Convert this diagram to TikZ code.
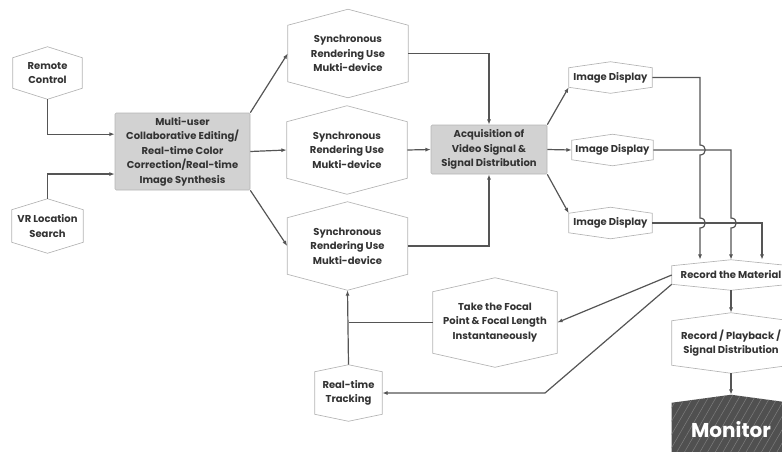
\documentclass[tikz,border=0pt]{standalone}
\usepackage{fontspec}
\setmainfont{Poppins}
\usetikzlibrary{positioning,calc,arrows.meta,backgrounds,patterns.meta}

\definecolor{linegray}{HTML}{555555}
\definecolor{edgegray}{HTML}{B4B4B4}
\definecolor{boxgray}{HTML}{D2D2D2}
\definecolor{textgray}{HTML}{333333}
\definecolor{monigray}{HTML}{505050}
\newcommand{\lbl}{\fontsize{7.5}{10.9}\selectfont\bfseries}

\begin{document}
\begin{tikzpicture}[x=0.75pt,y=-0.75pt]
 	\tikzstyle{hexa}=[inner sep=0pt, align=center, font=\lbl, text=textgray]
 	\tikzstyle{graybox}=[rectangle, fill=boxgray, draw=edgegray, rounded corners=1pt, inner sep=0pt, align=center, font=\lbl, text=textgray]
 	\tikzstyle{connect}=[-{Latex[length=4pt,width=3pt]}, draw=linegray, line width=0.9pt]
 	\tikzstyle{outline}=[draw=edgegray, line width=0.5pt]
 	\useasboundingbox (0,0) rectangle (782,451);
 	% inputs and editing
 	\node[hexa, minimum width=51.75pt, minimum height=39pt] (remote) at (47.5,73) {Remote\\Control};
 	\node[hexa, minimum width=53.25pt, minimum height=40.5pt] (vr) at (47.5,226) {VR Location\\Search};
 	\node[graybox, minimum width=101.25pt, minimum height=57.75pt] (multi) at (182.5,151.5) {Multi-user\\Collaborative Editing/\\Real-time Color\\Correction/Real-time\\Image Synthesis};
 	% rendering
 	\node[hexa, minimum width=90pt, minimum height=66pt] (sync1) at (348,53.5) {Synchronous\\Rendering Use\\Mukti-device};
 	\node[hexa, minimum width=90pt, minimum height=66pt] (sync2) at (347,150) {Synchronous\\Rendering Use\\Mukti-device};
 	\node[hexa, minimum width=90pt, minimum height=66pt] (sync3) at (347.5,246) {Synchronous\\Rendering Use\\Mukti-device};
 	\node[graybox, minimum width=87pt, minimum height=36.75pt] (acq) at (489,149.5) {Acquisition of\\Video Signal \&\\Signal Distribution};
 	% displays
 	\node[hexa, minimum width=62.25pt, minimum height=23.25pt] (id1) at (610.5,77.5) {Image Display};
 	\node[hexa, minimum width=60.75pt, minimum height=23.25pt] (id2) at (612.5,150) {Image Display};
 	\node[hexa, minimum width=62.25pt, minimum height=23.25pt] (id3) at (610.5,223) {Image Display};
 	% recording
 	\node[hexa, minimum width=88.5pt, minimum height=22.5pt] (rec) at (731,275) {Record the Material};
 	\node[hexa, minimum width=88.5pt, minimum height=45pt] (recplay) at (731,343) {Record / Playback /\\Signal Distribution};
 	\node[hexa, minimum width=88.5pt, minimum height=52.5pt, text=white, font=\fontsize{15}{18}\selectfont\bfseries] (monitor) at (731,430) {Monitor};
 	% tracking
 	\node[hexa, minimum width=93pt, minimum height=66.75pt] (focal) at (495,322.5) {Take the Focal\\Point \& Focal Length\\Instantaneously};
 	\node[hexa, minimum width=50.25pt, minimum height=42pt] (track) at (348.5,393) {Real-time\\Tracking};
 	% outlines
 	\foreach \n/\p in {remote/8.25,vr/8.25,sync1/12,sync2/12,sync3/12,id1/4.5,id2/4.5,id3/4.5,rec/4.5,recplay/6,focal/10.5,track/5.25}
 		\draw[outline] ([yshift=-\p pt]\n.north west) -- (\n.north) -- ([yshift=-\p pt]\n.north east) -- ([yshift=\p pt]\n.south east) -- (\n.south) -- ([yshift=\p pt]\n.south west) -- cycle;
 	\begin{scope}[on background layer]
 		\path[preaction={fill=monigray}, pattern={Lines[angle=60,distance=5pt,line width=0.4pt]}, pattern color=white!25!monigray] ([yshift=-6pt]monitor.north west) -- (monitor.north) -- ([yshift=-6pt]monitor.north east) -- ([yshift=6pt]monitor.south east) -- (monitor.south) -- ([yshift=6pt]monitor.south west) -- cycle;
 	\end{scope}
 	\coordinate (c1) at (700,0);
 	\coordinate (c2) at (731,0);
 	\coordinate (c3) at (762,0);
 	\coordinate (kink) at (545,393);
 	\path (remote.south) edge [connect, to path={|- (\tikztotarget)}] ([yshift=13pt]multi.west)
 	(vr.north) edge [connect, to path={|- (\tikztotarget)}] ([yshift=-16.9pt]multi.west)
 	(multi.north east) edge [connect] (sync1.west)
 	(multi.east) edge [connect] (sync2.west)
 	(multi.south east) edge [connect] (sync3.west)
 	(sync1.east) edge [connect, to path={-| (\tikztotarget)}] (acq.north)
 	(sync2.east) edge [connect] (acq.west)
 	(sync3.east) edge [connect, to path={-| (\tikztotarget)}] (acq.south)
 	(acq.north east) edge [connect] ([yshift=4.5pt]id1.south west)
 	(acq.east) edge [connect] (id2.west)
 	(acq.south east) edge [connect] ([yshift=-4.5pt]id3.north west)
 	(id3.east) edge [connect, to path={-| (\tikztotarget)}] (c3 |- rec.north)
 	(rec.south) edge [connect] (recplay.north)
 	(recplay.south) edge [connect] (monitor.north)
 	(rec.west) edge [connect] (focal.east)
 	(track.north) edge [connect] (sync3.south);
 	% lines with jumps
 	\draw[connect] (id1.east) -| ([yshift=3.75pt]c1 |- id2.east) .. controls +(7,0) and +(7,0) .. ([yshift=-3.75pt]c1 |- id2.east) -- ([yshift=3.75pt]c1 |- id3.east) .. controls +(7,0) and +(7,0) .. ([yshift=-3.75pt]c1 |- id3.east) -- (c1 |- rec.north);
 	\draw[connect] (id2.east) -| ([yshift=3.75pt]c2 |- id3.east) .. controls +(7,0) and +(7,0) .. ([yshift=-3.75pt]c2 |- id3.east) -- (c2 |- rec.north);
 	\draw[connect] ([yshift=4.5pt]rec.south west) -- (kink) -- (track.east);
 	\draw[draw=linegray, line width=0.9pt] (focal.west) -- (track.north |- focal.west);
\end{tikzpicture}
\end{document}
